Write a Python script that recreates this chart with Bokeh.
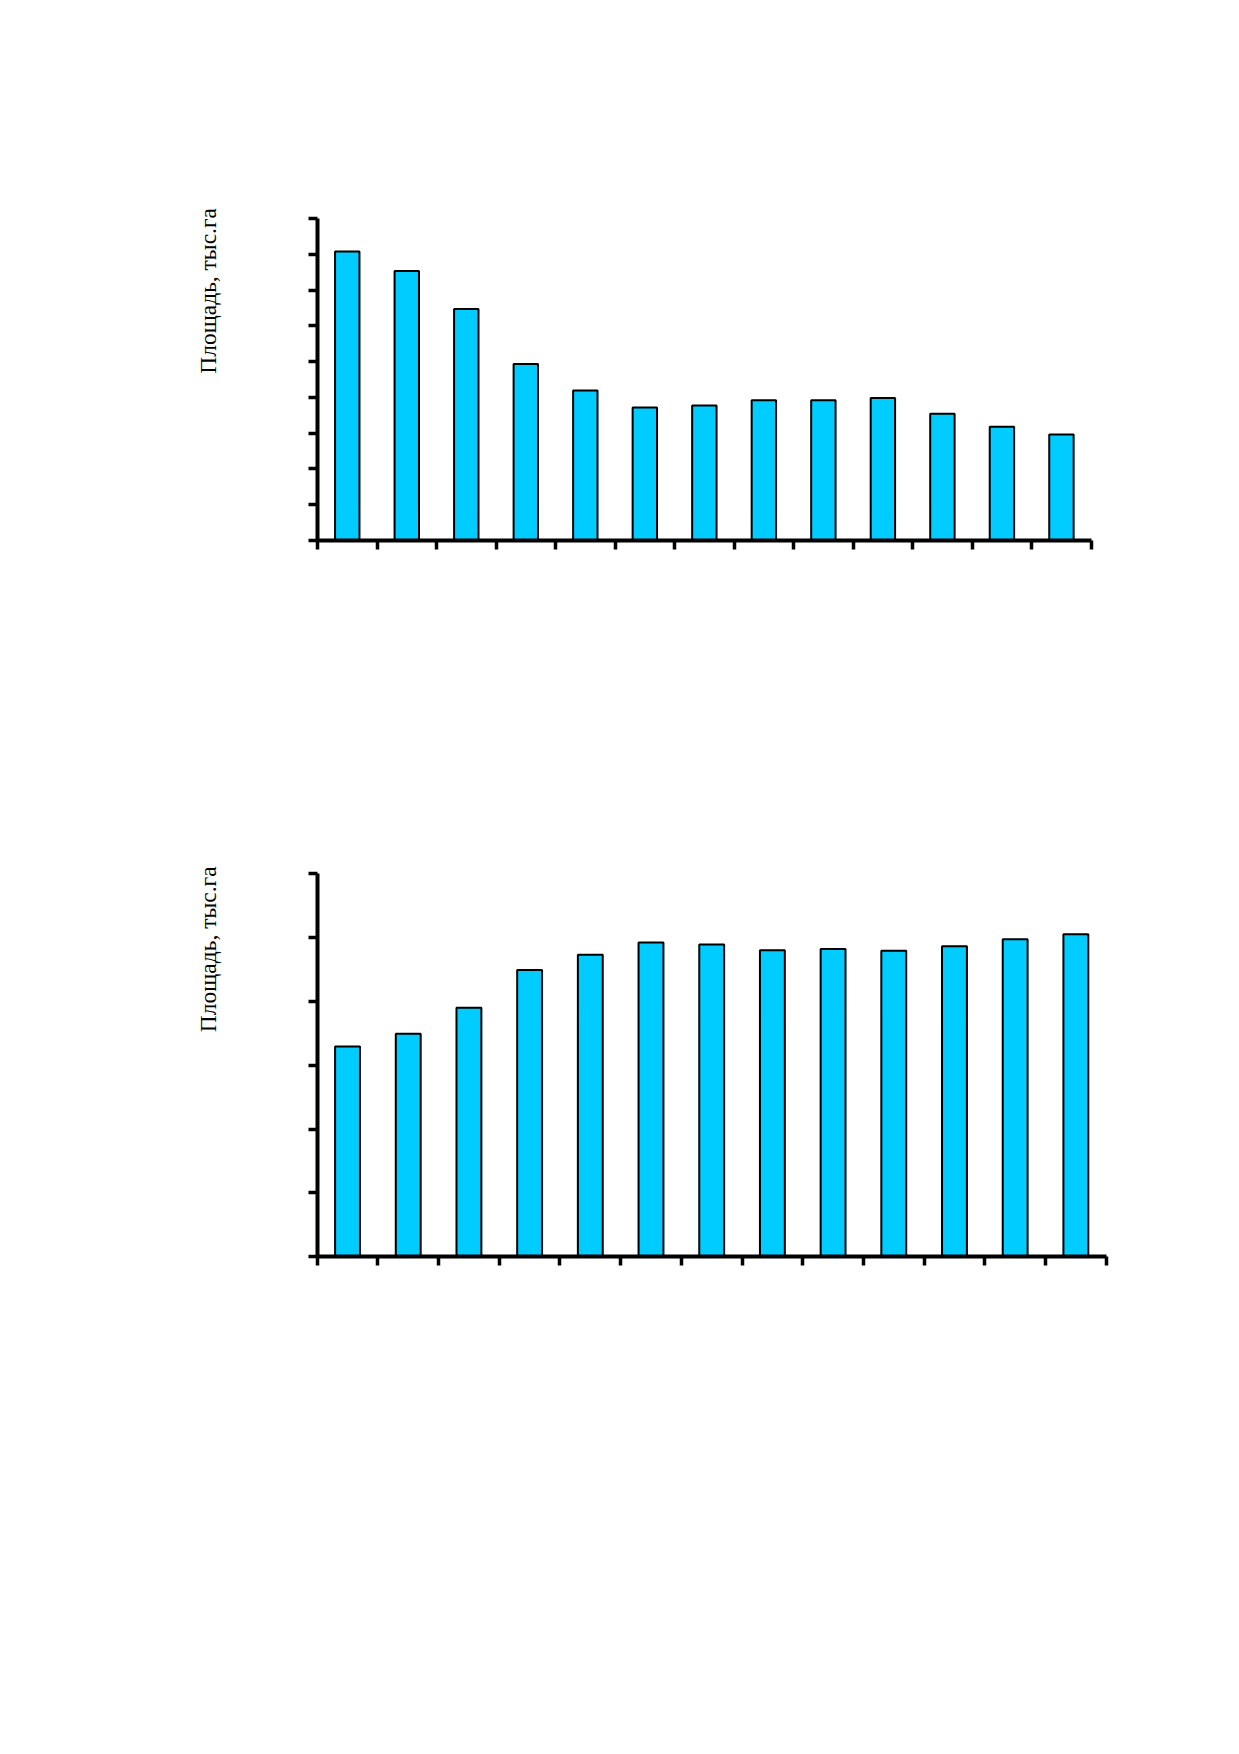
from bokeh.plotting import figure
from bokeh.models import Range1d, FixedTicker, Label, ColumnDataSource, CustomLabelingPolicy
from bokeh.layouts import column
from bokeh.embed import file_html
from bokeh.resources import INLINE
import math

# ---- data (the original shows no tick labels) ----
periods = list(range(1, 14))
top_values = [8.08, 7.53, 6.47, 4.93, 4.19, 3.72, 3.77, 3.92, 3.92, 3.98, 3.54, 3.18, 2.96]
bottom_values = [3.29, 3.49, 3.90, 4.49, 4.73, 4.92, 4.89, 4.80, 4.82, 4.79, 4.86, 4.97, 5.05]
top_ymax = 9
bottom_ymax = 6
y_label = "Площадь, тыс.га"

BAR_COLOR = "#00CCFF"
FONT = "Liberation Serif"
PAGE_W = 1223
FRAME_LEFT = 150  # page px, frame extends left so the y label sits inside it


def make_chart(values, ymax, fig_top, fig_h, ax_left, ax_right, ax_top, ax_zero, label_x, label_y):
    """All positional arguments are page pixel positions."""
    n = len(values)
    ppx = (ax_right - ax_left) / n
    ppy = (ax_zero - ax_top) / ymax
    frame_top = ax_top - 10
    frame_bottom = ax_zero + 20
    frame_right = ax_right + 8
    fw = int(round(frame_right - FRAME_LEFT))
    fh = int(round(frame_bottom - frame_top))
    x0 = -(ax_left - FRAME_LEFT) / ppx
    y1 = ymax + (ax_top - frame_top) / ppy
    y0 = y1 - fh / ppy
    p = figure(
        output_backend="svg", toolbar_location=None,
        frame_width=fw, frame_height=fh,
        min_border_left=FRAME_LEFT, min_border_right=PAGE_W - FRAME_LEFT - fw,
        min_border_top=int(round(frame_top - fig_top)),
        min_border_bottom=int(round(fig_top + fig_h - frame_bottom)),
        x_range=Range1d(x0, x0 + fw / ppx), y_range=Range1d(y0, y1),
        background_fill_color="white", border_fill_color="white",
    )
    p.outline_line_color = None
    p.xgrid.visible = False
    p.ygrid.visible = False

    src = ColumnDataSource(dict(x=[i - 0.5 for i in periods], top=values))
    p.vbar(x="x", top="top", bottom=0, width=0.41, source=src,
           fill_color=BAR_COLOR, line_color="black", line_width=2)

    no_labels = CustomLabelingPolicy(code="return new Set()")
    for ax, ticks, loc in ((p.xaxis[0], list(range(0, n + 1)), 0),
                           (p.yaxis[0], list(range(0, ymax + 1)), 0)):
        ax.ticker = FixedTicker(ticks=ticks, minor_ticks=[])
        ax.fixed_location = loc
        ax.bounds = (0, n) if ax is p.xaxis[0] else (0, ymax)
        ax.axis_line_width = 4
        ax.axis_line_color = "black"
        ax.major_tick_line_width = 3.5
        ax.major_tick_line_color = "black"
        ax.major_tick_out = 9
        ax.major_tick_in = 0
        ax.minor_tick_line_color = None
        ax.major_label_policy = no_labels

    lbl = Label(x=label_x - FRAME_LEFT, y=frame_bottom - label_y,
                x_units="screen", y_units="screen",
                text=y_label, angle=math.pi / 2, text_align="left",
                text_baseline="alphabetic", text_font=FONT,
                text_font_size="23.5px", text_color="black")
    p.add_layout(lbl)
    return p


top = make_chart(top_values, top_ymax, 0, 700, 317, 1090.7, 218, 540, 207, 373.3)
bottom = make_chart(bottom_values, bottom_ymax, 700, 700, 316.7, 1105.7, 872.7, 1256, 207, 1031.7)

layout = column(top, bottom, spacing=0)
open("out.html", "w").write(file_html(layout, INLINE))
